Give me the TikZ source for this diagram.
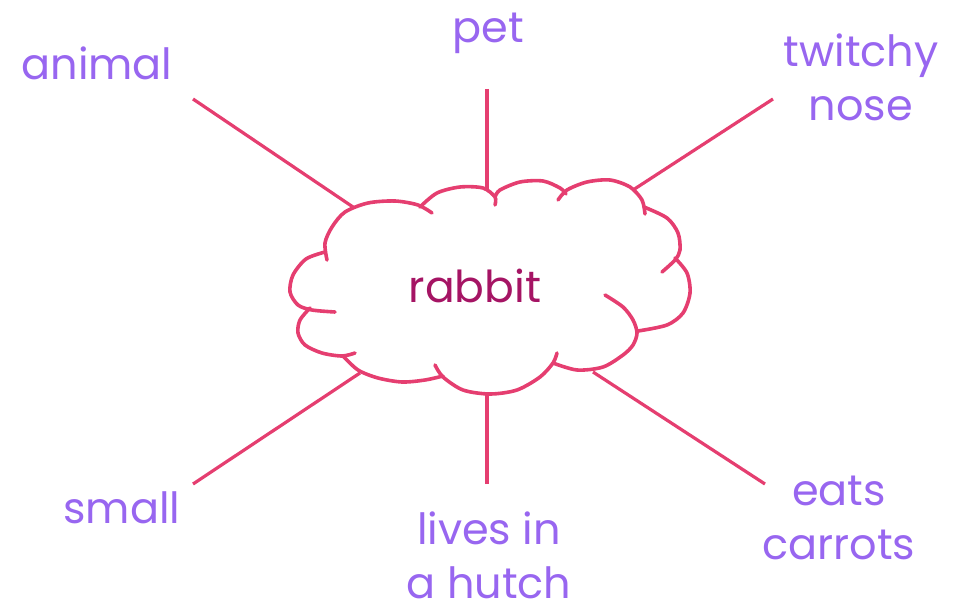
\documentclass[tikz,border=0pt]{standalone}
\usepackage{fontspec}
\setmainfont{Poppins}
\usepackage{tikz}
\definecolor{wordcol}{RGB}{152,102,240}
\definecolor{linkcol}{RGB}{229,62,112}
\definecolor{heartcol}{RGB}{165,20,100}

\begin{document}
\begin{tikzpicture}[
  x=1pt, y=-1pt,
  word/.style={text=wordcol, font=\fontsize{43}{54}\selectfont, align=center, inner sep=0pt},
  heart/.style={text=heartcol, font=\fontsize{44}{54}\selectfont, inner sep=0pt},
  link/.style={draw=linkcol, line width=3.2pt},
  puff/.style={draw=linkcol, line width=3.6pt, line cap=round}
]
\useasboundingbox (0,0) rectangle (954,610);

% ===== CLOUD =====
\draw[puff] plot[smooth] coordinates {(327,260) (325,243) (332,227) (345,212) (368,203) (395,201) (418,205) (432,213)};
\draw[puff] plot[smooth] coordinates {(420,207) (437,193) (460,187) (483,188) (495,197) (495,205)};
\draw[puff] plot[smooth] coordinates {(495,197) (500,190) (520,182) (543,181) (560,188) (566,194)};
\draw[puff] plot[smooth] coordinates {(558,200) (567,190) (587,182) (610,180) (630,187) (642,200) (645,214)};
\draw[puff] plot[smooth] coordinates {(644,207) (667,218) (678,233) (680,250) (675,260) (662,272)};
\draw[puff] plot[smooth] coordinates {(675,258) (687,273) (690,293) (683,313) (667,325) (638,331)};
\draw[puff] plot[smooth] coordinates {(605,295) (623,307) (633,320) (637,333) (633,345) (623,355) (603,367) (577,370) (553,363)};
\draw[puff] plot[smooth] coordinates {(435,365) (443,377) (463,390) (490,394) (517,390) (540,377) (553,363) (557,353)};
\draw[puff] plot[smooth] coordinates {(343,356) (358,370) (378,378) (402,382) (425,380) (443,376)};
\draw[puff] plot[smooth] coordinates {(310,308) (300,320) (298,333) (305,345) (322,353) (342,356) (355,353)};
\draw[puff] plot[smooth] coordinates {(325,252) (306,259) (293,275) (290,292) (298,305) (312,310) (335,312)};

\node[heart] (rabbit) at (475,286) {rabbit};

% ===== WORDS =====
\node[word] (w_animal) at (97,63) {animal};
\node[word] (w_pet) at (488,33) {pet};
\node[word] (w_nose) at (861,77) {twitchy\\nose};
\node[word] (w_small) at (122,508) {small};
\node[word] (w_hutch) at (489,555) {lives in\\a hutch};
\node[word] (w_carrots) at (839,518) {eats\\carrots};

% ===== SPOKES =====
\coordinate (animal_out) at (193,99);  \coordinate (animal_in) at (353,207);
\coordinate (pet_out) at (487,89);     \coordinate (pet_in) at (487,190);
\coordinate (nose_out) at (773,99);    \coordinate (nose_in) at (633,190);
\coordinate (small_out) at (193,484);  \coordinate (small_in) at (360,373);
\coordinate (hutch_out) at (487,484);  \coordinate (hutch_in) at (487,394);
\coordinate (carrots_out) at (765,484); \coordinate (carrots_in) at (593,372);

\draw[link] (animal_out) -- (animal_in);
\draw[link] (pet_out) -- (pet_in);
\draw[link] (nose_out) -- (nose_in);
\draw[link] (small_out) -- (small_in);
\draw[link] (hutch_out) -- (hutch_in);
\draw[link] (carrots_out) -- (carrots_in);

\end{tikzpicture}
\end{document}
